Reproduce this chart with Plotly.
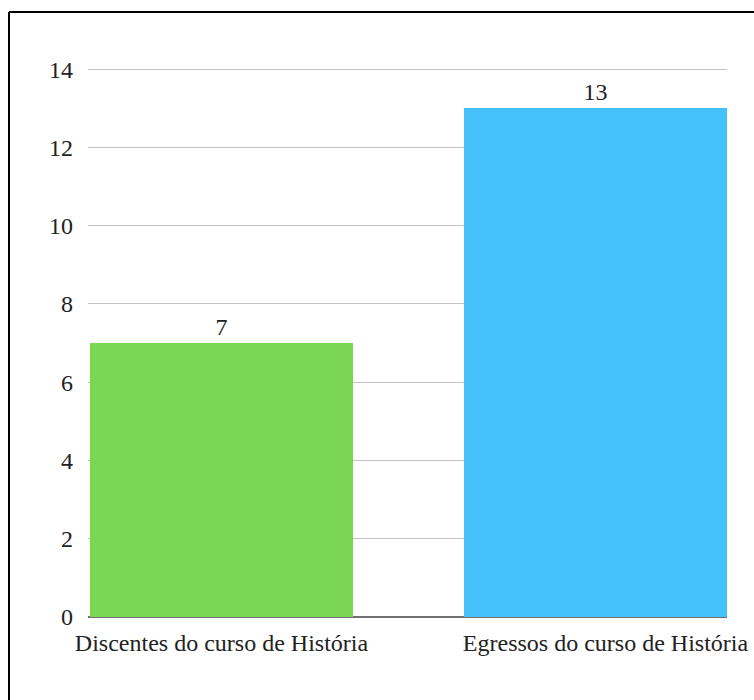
import plotly.graph_objects as go

categories = ["Discentes do curso de História", "Egressos do curso de História"]
values = [7, 13]
colors = ["#7AD653", "#47C1FA"]
y_ticks = [0, 2, 4, 6, 8, 10, 12, 14]

W, H = 754, 700
L, R, T, B = 88, 27, 68, 83
pw, ph = W - L - R, H - T - B

fig = go.Figure()
fig.add_trace(go.Bar(
    x=[0, 1],
    y=values,
    width=0.705,
    marker=dict(color=colors, line=dict(width=0)),
    text=[str(v) for v in values],
    textposition="outside",
    textfont=dict(family="Liberation Serif", size=24, color="#222222"),
    cliponaxis=False,
))

fig.update_layout(
    width=W, height=H,
    margin=dict(l=L, r=R, t=T, b=B, pad=0, autoexpand=False),
    paper_bgcolor="white", plot_bgcolor="white",
    showlegend=False,
    font=dict(family="Liberation Serif", size=24, color="#222222"),
    xaxis=dict(
        range=[-0.357, 1.352], automargin=False,
        tickmode="array", tickvals=[0, 1.027], ticktext=categories,
        showgrid=False, zeroline=False, showline=False,
        ticks="", ticklabelstandoff=9,
        tickfont=dict(family="Liberation Serif", size=24, color="#222222"),
    ),
    yaxis=dict(
        range=[0, 14.03], tickmode="array", tickvals=y_ticks, automargin=False,
        showgrid=True, gridcolor="#c4c4c4", gridwidth=1,
        zeroline=True, zerolinecolor="#707070", zerolinewidth=1.5,
        showline=False, ticks="", ticklabelstandoff=14,
        tickfont=dict(family="Liberation Serif", size=24, color="#222222"),
    ),
    bargap=0,
)

# outer black frame: only top and left edges are inside the picture
xl = (9 - L) / pw
yt = (T + ph - 12) / ph
fig.add_shape(type="line", xref="paper", yref="paper",
              x0=xl, x1=(W + 30 - L) / pw, y0=yt, y1=yt,
              line=dict(color="black", width=2), layer="above")
fig.add_shape(type="line", xref="paper", yref="paper",
              x0=xl, x1=xl, y0=yt, y1=-(B + 30) / ph,
              line=dict(color="black", width=2), layer="above")

fig.write_html(
    "out.html",
    config={"displayModeBar": False},
    post_script="document.body.style.margin='0';document.body.style.overflow='hidden';",
)
